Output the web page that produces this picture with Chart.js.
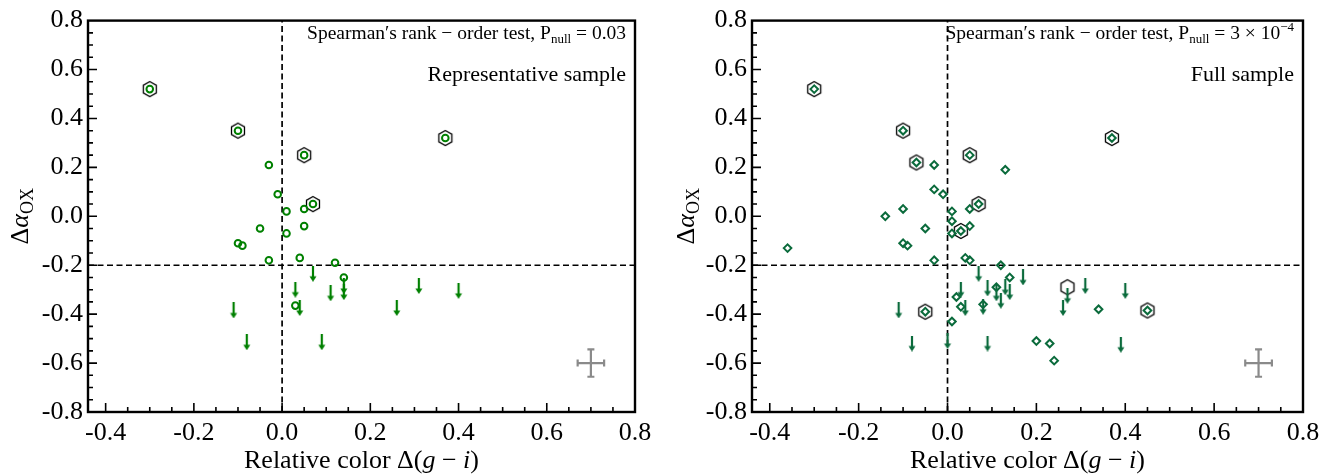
<!DOCTYPE html>
<html><head><meta charset="utf-8">
<script src="https://cdn.jsdelivr.net/npm/chart.js@4/dist/chart.umd.min.js"></script>
<style>
html,body{margin:0;padding:0;background:#fff;}
body{width:1333px;height:474px;overflow:hidden;position:relative;}
canvas{position:absolute;top:0;}
</style></head>
<body>
<canvas id="c1" width="666" height="474" style="left:0px"></canvas>
<canvas id="c2" width="667" height="474" style="left:666px"></canvas>
<script>
// ---------- axes ----------
const xTicks = [-0.4, -0.2, 0.0, 0.2, 0.4, 0.6, 0.8];
const yTicks = [-0.8, -0.6, -0.4, -0.2, 0.0, 0.2, 0.4, 0.6, 0.8];
const xRange = [-0.44, 0.8];
const yRange = [-0.8, 0.8];
const refX = 0.0;
const refY = -0.2;

// ---------- left panel: representative sample ----------
const repCircX = [-0.30,-0.10,0.05,0.37,0.07,-0.03,-0.01,0.01,0.05,0.05,-0.05,0.01,-0.10,-0.09,-0.03,0.04,0.12,0.14,0.03];
const repCircY = [0.52,0.35,0.25,0.32,0.05,0.21,0.09,0.02,0.03,-0.04,-0.05,-0.07,-0.11,-0.12,-0.18,-0.17,-0.19,-0.25,-0.365];
const repHexX = [-0.30,-0.10,0.05,0.37,0.07];
const repHexY = [0.52,0.35,0.25,0.32,0.05];
const repLimX = [0.07,0.03,0.11,0.14,0.14,0.04,-0.11,0.26,0.31,0.40,-0.08,0.09];
const repLimY = [-0.235,-0.30,-0.315,-0.285,-0.31,-0.375,-0.385,-0.375,-0.285,-0.305,-0.515,-0.515];

// ---------- right panel: full sample ----------
const fullDiaX = [-0.30,-0.10,-0.07,0.05,0.37,0.07,0.03,-0.05,0.45,-0.36,-0.14,-0.10,-0.05,-0.10,-0.09,-0.03,-0.03,-0.01,-0.03,0.01,0.01,0.01,0.05,0.05,0.04,0.05,0.13,0.12,0.14,0.02,0.03,0.01,0.11,0.08,0.20,0.23,0.24,0.34];
const fullDiaY = [0.52,0.35,0.22,0.25,0.32,0.05,-0.06,-0.39,-0.385,-0.13,0.00,0.03,-0.05,-0.11,-0.12,0.21,0.11,0.09,-0.18,0.02,-0.02,-0.07,0.03,-0.04,-0.17,-0.18,0.19,-0.20,-0.25,-0.33,-0.37,-0.43,-0.29,-0.36,-0.51,-0.52,-0.59,-0.38];
const fullHexX = [-0.30,-0.10,-0.07,0.05,0.37,0.07,0.03,-0.05,0.45,0.27];
const fullHexY = [0.52,0.35,0.22,0.25,0.32,0.05,-0.06,-0.39,-0.385,-0.29];
const fullLimX = [0.07,0.03,0.09,0.11,0.12,0.13,0.14,0.17,0.04,0.08,0.27,0.26,0.31,0.40,-0.11,-0.08,0.00,0.09,0.39];
const fullLimY = [-0.235,-0.30,-0.295,-0.315,-0.345,-0.29,-0.31,-0.25,-0.375,-0.37,-0.325,-0.375,-0.285,-0.305,-0.385,-0.52,-0.51,-0.52,-0.525];

// ---------- typical error bar ----------
const errCenterX = [0.70];
const errCenterY = [-0.60];
const errHalfX = [0.03];
const errHalfY = [0.056];

const FONT = '"Liberation Serif", "Times New Roman", Times, serif';
Chart.defaults.font.family = FONT;

function zip(xs, ys){ return xs.map((x,i)=>({x:x, y:ys[i]})); }

function hexImg(r, lw){
  const s = Math.ceil(2*r + 2*lw + 2);
  const c = document.createElement('canvas'); c.width = s; c.height = s;
  const g = c.getContext('2d'); const cx = s/2, cy = s/2;
  g.beginPath();
  for(let k=0;k<6;k++){ const a = -Math.PI/2 + k*Math.PI/3; const px = cx + r*Math.cos(a), py = cy + r*Math.sin(a); k?g.lineTo(px,py):g.moveTo(px,py); }
  g.closePath(); g.lineWidth = lw; g.strokeStyle = '#000'; g.stroke();
  return c;
}
function arrowImg(color){
  const w = 10, h = 16;
  const c = document.createElement('canvas'); c.width = w; c.height = h;
  const g = c.getContext('2d');
  g.strokeStyle = color; g.fillStyle = color; g.lineWidth = 2.2;
  g.beginPath(); g.moveTo(w/2, 0); g.lineTo(w/2, h-4); g.stroke();
  g.beginPath(); g.moveTo(1.5, h-5.5); g.lineTo(w-1.5, h-5.5); g.lineTo(w/2, h); g.closePath(); g.fill();
  return c;
}

function drawRich(ctx, parts, x, y, align){
  let total = 0;
  const fonts = parts.map(p => `${p.italic?'italic ':''}${p.size}px ${FONT}`);
  parts.forEach((p,i)=>{ ctx.font = fonts[i]; total += ctx.measureText(p.t).width; });
  let cx = align==='right' ? x - total : (align==='center' ? x - total/2 : x);
  ctx.textBaseline = 'alphabetic'; ctx.textAlign = 'left'; ctx.fillStyle = '#000';
  parts.forEach((p,i)=>{ ctx.font = fonts[i]; ctx.fillText(p.t, cx, y + (p.dy||0)); cx += ctx.measureText(p.t).width; });
}

const decorPlugin = {
  id: 'decor',
  afterDatasetsDraw(chart){
    const ctx = chart.ctx, xs = chart.scales.x, ys = chart.scales.y;
    ctx.save(); ctx.strokeStyle = '#8a8a8a'; ctx.lineWidth = 2.2;
    for(let i=0;i<errCenterX.length;i++){
      const cx = xs.getPixelForValue(errCenterX[i]), cy = ys.getPixelForValue(errCenterY[i]);
      const x0 = xs.getPixelForValue(errCenterX[i]-errHalfX[i]), x1 = xs.getPixelForValue(errCenterX[i]+errHalfX[i]);
      const y0 = ys.getPixelForValue(errCenterY[i]+errHalfY[i]), y1 = ys.getPixelForValue(errCenterY[i]-errHalfY[i]);
      const cap = 3.5;
      ctx.beginPath();
      ctx.moveTo(x0,cy); ctx.lineTo(x1,cy); ctx.moveTo(cx,y0); ctx.lineTo(cx,y1);
      ctx.moveTo(x0,cy-cap); ctx.lineTo(x0,cy+cap); ctx.moveTo(x1,cy-cap); ctx.lineTo(x1,cy+cap);
      ctx.moveTo(cx-cap,y0); ctx.lineTo(cx+cap,y0); ctx.moveTo(cx-cap,y1); ctx.lineTo(cx+cap,y1);
      ctx.stroke();
    }
    ctx.restore();
  },
  afterDraw(chart){
    const ctx = chart.ctx, a = chart.chartArea, xs = chart.scales.x, ys = chart.scales.y;
    const o = chart.options.plugins.decor;
    ctx.save();
    ctx.strokeStyle = '#000'; ctx.lineWidth = 1.6;
    ctx.beginPath();
    for(let k=0;k<xTicks.length-1;k++){
      for(let m=0;m<4;m++){
        const v = xTicks[k] + m*(xTicks[k+1]-xTicks[k])/4;
        const px = xs.getPixelForValue(v); const L = m===0 ? 9 : 5;
        ctx.moveTo(px, a.bottom); ctx.lineTo(px, a.bottom - L);
      }
    }
    for(let k=0;k<yTicks.length-1;k++){
      for(let m=0;m<4;m++){
        const v = yTicks[k] + m*(yTicks[k+1]-yTicks[k])/4;
        const py = ys.getPixelForValue(v); const L = m===0 ? 9 : 5;
        ctx.moveTo(a.left, py); ctx.lineTo(a.left + L, py);
      }
    }
    ctx.stroke();
    ctx.lineWidth = 2.4; ctx.strokeRect(a.left, a.top, a.right-a.left, a.bottom-a.top);
    drawRich(ctx, o.stat, a.right - 9, a.top + 18, 'right');
    drawRich(ctx, [{t:o.label, size:22}], a.right - 9, a.top + 60, 'right');
    drawRich(ctx, [{t:'Relative color Δ(', size:26},{t:'g', size:26, italic:true},{t:' − ', size:26},{t:'i', size:26, italic:true},{t:')', size:26}], (a.left+a.right)/2, 468, 'center');
    ctx.translate(28, (a.top+a.bottom)/2); ctx.rotate(-Math.PI/2);
    drawRich(ctx, [{t:'Δ', size:26},{t:'α', size:26, italic:true},{t:'OX', size:18, dy:5}], 0, 0, 'center');
    ctx.restore();
  }
};

function build(id, cfg){
  const datasets = [
    {type:'line', data:[{x:refX,y:yRange[0]},{x:refX,y:yRange[1]}], borderColor:'#000', borderWidth:1.7, borderDash:[6,3.5], pointRadius:0, order:10},
    {type:'line', data:[{x:xRange[0],y:refY},{x:xRange[1],y:refY}], borderColor:'#000', borderWidth:1.7, borderDash:[6,3.5], pointRadius:0, order:10},
    {data:cfg.hex, pointStyle:hexImg(7.5,1.3), pointRadius:8, order:5},
    {data:cfg.lim, pointStyle:arrowImg(cfg.color), pointRadius:8, order:3},
    {data:cfg.pts, pointStyle:cfg.marker, pointRadius:cfg.marker==='circle'?3.3:3.8, borderWidth:2, borderColor:cfg.color, backgroundColor:'rgba(255,255,255,0)', order:1}
  ];
  return new Chart(document.getElementById(id), {
    type:'scatter',
    data:{datasets},
    options:{
      responsive:false, animation:false, devicePixelRatio:1,
      events:[],
      layout:{padding:{top:16, right:cfg.padRight, left:0, bottom:0}},
      plugins:{legend:{display:false}, tooltip:{enabled:false}, decor:{stat:cfg.stat, label:cfg.label}},
      scales:{
        x:{type:'linear', min:xRange[0], max:xRange[1],
           afterBuildTicks:s=>{ s.ticks = xTicks.map(v=>({value:v})); },
           afterFit:s=>{ s.height = 62; },
           grid:{display:false, drawTicks:false}, border:{display:false},
           ticks:{font:{size:26, family:FONT}, color:'#000', padding:6, maxRotation:0, autoSkip:false, callback:v=>Number(v).toFixed(1)}},
        y:{type:'linear', min:yRange[0], max:yRange[1],
           afterBuildTicks:s=>{ s.ticks = yTicks.map(v=>({value:v})); },
           afterFit:s=>{ s.width = cfg.yW; },
           grid:{display:false, drawTicks:false}, border:{display:false},
           ticks:{font:{size:26, family:FONT}, color:'#000', padding:5, autoSkip:false, callback:v=>Number(v).toFixed(1)}}
      }
    },
    plugins:[decorPlugin]
  });
}

build('c1', {
  pts: zip(repCircX, repCircY), hex: zip(repHexX, repHexY), lim: zip(repLimX, repLimY),
  marker:'circle', color:'#008000', yW:88, padRight:31,
  stat:[{t:'Spearman′s rank − order test, P', size:19.5},{t:'null', size:13, dy:4},{t:' = 0.03', size:19.5}],
  label:'Representative sample'
});
build('c2', {
  pts: zip(fullDiaX, fullDiaY), hex: zip(fullHexX, fullHexY), lim: zip(fullLimX, fullLimY),
  marker:'rectRot', color:'#0b6b3c', yW:86, padRight:30,
  stat:[{t:'Spearman′s rank − order test, P', size:19.5},{t:'null', size:13, dy:4},{t:' = 3 × 10', size:19.5},{t:'−4', size:13, dy:-8}],
  label:'Full sample'
});
</script>
</body></html>
